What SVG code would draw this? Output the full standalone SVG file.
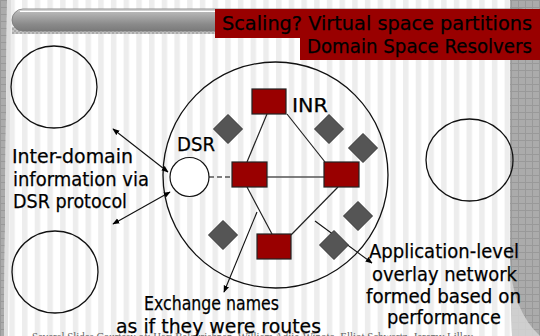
<svg xmlns="http://www.w3.org/2000/svg" width="540" height="336" viewBox="0 0 540 336">
<defs>
<pattern id="stripes" x="9.3" y="0" width="12.7" height="20" patternUnits="userSpaceOnUse"><rect width="5.5" height="20" fill="#ededed"/></pattern>
<pattern id="grid" x="0" y="0" width="7" height="7" patternUnits="userSpaceOnUse"><rect width="7" height="7" fill="#ababab"/><path d="M0 0.5H7M0.5 0V7" stroke="#999" stroke-width="1"/></pattern>
<pattern id="checker" x="0" y="0" width="4" height="4" patternUnits="userSpaceOnUse"><rect width="4" height="4" fill="#c4c4c4"/><rect width="2" height="2" fill="#aaa"/><rect x="2" y="2" width="2" height="2" fill="#aaa"/></pattern>
<linearGradient id="bar" x1="0" y1="0" x2="0" y2="1"><stop offset="0" stop-color="#e8e8e8"/><stop offset="0.15" stop-color="#b5b5b5"/><stop offset="0.7" stop-color="#8a8a8a"/><stop offset="1" stop-color="#7a7a7a"/></linearGradient>
<marker id="ah" viewBox="0 0 10 10" refX="9" refY="5" markerWidth="7" markerHeight="7" orient="auto-start-reverse" markerUnits="userSpaceOnUse"><path d="M0 1L10 5L0 9z" fill="#000"/></marker>
<style>
.t{font-family:"DejaVu Sans","Liberation Sans",sans-serif;fill:#000;stroke:#000;stroke-width:0.25;}
.big{font-size:20px;}
.ttl{font-size:19px;}
.lbl{font-size:19px;}
.rn{fill:#990000;stroke:#222;stroke-width:1.2;}
.dm{fill:#555;stroke:#333;stroke-width:1;}
.ring{fill:none;stroke:#111;stroke-width:1.3;}
.edge{stroke:#222;stroke-width:1.2;fill:none;}
.arr{stroke:#111;stroke-width:1.1;fill:none;marker-end:url(#ah);}
</style>
</defs>
<rect width="540" height="336" fill="#fff"/>
<rect width="540" height="336" fill="url(#stripes)"/>
<path d="M0 0H7L4 336H0Z" fill="url(#grid)"/>
<path d="M7 0H11L8 336H4Z" fill="#dedede"/>
<path d="M510 0H540V336H512Q511 300 510 260Z" fill="url(#grid)"/>
<path d="M510 260Q512 310 540 336H512Z" fill="#d8d8d8" opacity="0.8"/>
<text x="32" y="341" font-family="Liberation Serif,serif" font-size="12" fill="#666" textLength="441" lengthAdjust="spacingAndGlyphs">Several Slides Courtesy of: Hari Balakrishnan, William Adjie-Winoto, Elliot Schwartz, Jeremy Lilley</text>
<g id="title-bar">
<rect x="12" y="27" width="520" height="7" fill="url(#checker)"/>
<rect x="12" y="9" width="520" height="22" rx="11" fill="url(#bar)" stroke="#777" stroke-width="0.8"/>
<line x1="20" y1="11.5" x2="530" y2="11.5" stroke="#fff" stroke-width="1.2"/>
</g>
<g id="title">
<rect x="215" y="9" width="325" height="29" fill="#990000"/>
<rect x="300" y="37" width="240" height="23" fill="#990000"/>
<text class="t ttl" x="222" y="30" textLength="310" lengthAdjust="spacingAndGlyphs">Scaling?  Virtual space partitions</text>
<text class="t ttl" x="307" y="53" textLength="225" lengthAdjust="spacingAndGlyphs">Domain Space Resolvers</text>
</g>
<g id="domain-top-left"><ellipse class="ring" cx="54" cy="87" rx="43" ry="41"/></g>
<g id="domain-bottom-left"><ellipse class="ring" cx="55" cy="272" rx="43" ry="41"/></g>
<g id="domain-right"><ellipse class="ring" cx="469.5" cy="160" rx="43.5" ry="41"/></g>
<g id="domain-main"><ellipse class="ring" cx="275.5" cy="175" rx="112.5" ry="113"/></g>
<g id="connectors">
<line class="edge" x1="267" y1="114" x2="247" y2="162"/>
<line class="edge" x1="287" y1="114" x2="325" y2="162"/>
<line x1="267" y1="177" x2="324" y2="177" stroke="#555" stroke-width="1.6"/>
<line x1="209" y1="177" x2="232" y2="177" stroke="#555" stroke-width="1.6" stroke-dasharray="5 3"/>
<line class="edge" x1="247" y1="187" x2="272" y2="234"/>
<line class="edge" x1="338" y1="187" x2="291" y2="235"/>
<line class="arr" x1="168" y1="172" x2="113" y2="129" marker-start="url(#ah)"/>
<line class="arr" x1="170" y1="192" x2="113" y2="224" marker-start="url(#ah)"/>
<line class="arr" x1="257" y1="212" x2="224" y2="292"/>
<line class="arr" x1="315" y1="221" x2="372" y2="263"/>
</g>
<g id="dsr">
<circle cx="189.5" cy="177" r="19.5" fill="#fff" stroke="#111" stroke-width="1.2"/>
<text class="t lbl" x="177" y="151" textLength="38" lengthAdjust="spacingAndGlyphs">DSR</text>
</g>
<g id="inr-top"><rect class="rn" x="252" y="89" width="34" height="25"/><text class="t lbl" x="292" y="112" textLength="36" lengthAdjust="spacingAndGlyphs">INR</text></g>
<g id="inr-left"><rect class="rn" x="232" y="162" width="35" height="25"/></g>
<g id="inr-right"><rect class="rn" x="324" y="162" width="35" height="25"/></g>
<g id="inr-bottom"><rect class="rn" x="257" y="234" width="34" height="25"/></g>
<g id="host-1"><path class="dm" d="M228 114.5L242.5 129L228 143.5L213.5 129Z"/></g>
<g id="host-2"><path class="dm" d="M329 114.5L343.5 129L329 143.5L314.5 129Z"/></g>
<g id="host-3"><path class="dm" d="M363 133.5L377.5 148L363 162.5L348.5 148Z"/></g>
<g id="host-4"><path class="dm" d="M223 220.5L237.5 235L223 249.5L208.5 235Z"/></g>
<g id="host-5"><path class="dm" d="M358 201.5L372.5 216L358 230.5L343.5 216Z"/></g>
<g id="host-6"><path class="dm" d="M334 230.5L348.5 245L334 259.5L319.5 245Z"/></g>
<g id="label-inter-domain">
<text class="t big" x="12" y="163" textLength="121" lengthAdjust="spacingAndGlyphs">Inter-domain</text>
<text class="t big" x="13" y="186" textLength="136" lengthAdjust="spacingAndGlyphs">information via</text>
<text class="t big" x="13" y="208" textLength="114" lengthAdjust="spacingAndGlyphs">DSR protocol</text>
</g>
<g id="label-exchange">
<text class="t big" x="144" y="310" textLength="135" lengthAdjust="spacingAndGlyphs">Exchange names</text>
<text class="t big" x="116" y="333" textLength="205" lengthAdjust="spacingAndGlyphs">as if they were routes</text>
</g>
<g id="label-overlay">
<text class="t big" x="369" y="258" textLength="150" lengthAdjust="spacingAndGlyphs">Application-level</text>
<text class="t big" x="372" y="281" textLength="145" lengthAdjust="spacingAndGlyphs">overlay network</text>
<text class="t big" x="366" y="303" textLength="155" lengthAdjust="spacingAndGlyphs">formed based on</text>
<text class="t big" x="387" y="324" textLength="114" lengthAdjust="spacingAndGlyphs">performance</text>
</g>
</svg>
